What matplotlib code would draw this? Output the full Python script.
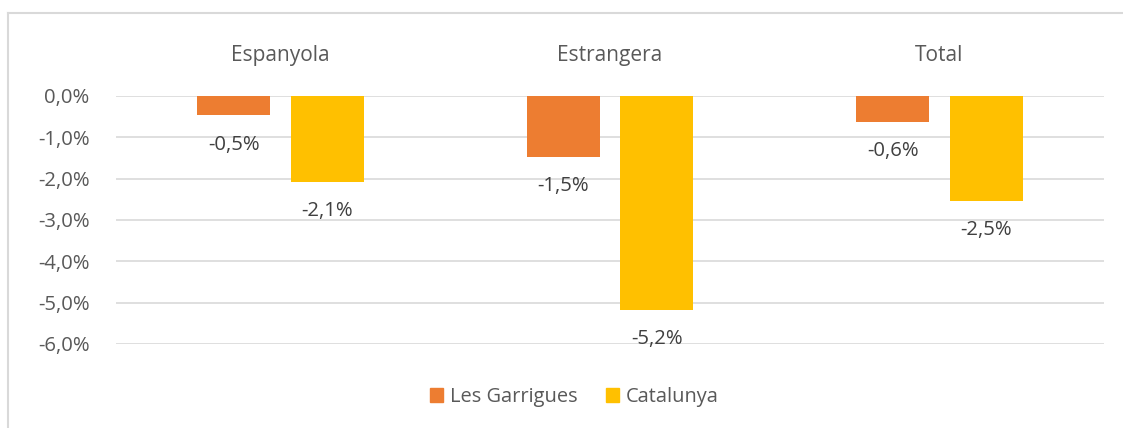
import matplotlib
matplotlib.use("Agg")
import matplotlib.pyplot as plt
from matplotlib.lines import Line2D
from matplotlib.patches import Patch
import numpy as np

categories = ["Espanyola", "Estrangera", "Total"]
series_names = ["Les Garrigues", "Catalunya"]
garrigues = [-0.47, -1.47, -0.62]
catalunya = [-2.07, -5.17, -2.54]
yticks = [0, -1, -2, -3, -4, -5, -6]

colors = ["#ED7D31", "#FFC000"]
plt.rcParams['font.family'] = ['Open Sans', 'DejaVu Sans']

W, H = 1123, 428
fig = plt.figure(figsize=(W/100, H/100), dpi=100)
ax = fig.add_axes([116/W, 1-344/H, (1104-116)/W, (344-96)/H])

x = np.arange(len(categories))
bw = 0.222
off = 0.142
for vals, c, d in [(garrigues, colors[0], -off), (catalunya, colors[1], off)]:
    ax.bar(x + d, vals, width=bw, color=c, zorder=3)
    for xi, v in zip(x + d, vals):
        lbl = f"{v:.1f}%".replace(".", ",")
        ax.annotate(lbl, (xi, v), xytext=(0, -21), textcoords="offset points",
                    ha="center", va="center", fontsize=14.6, color="#404040",
                    annotation_clip=False)

for xi, c in zip(x, categories):
    ax.annotate(c, (xi, 0), xytext=(0, 29.5), textcoords="offset points",
                ha="center", va="center", fontsize=15, color="#595959",
                annotation_clip=False)

ax.set_xlim(-0.5, 2.5)
ax.set_ylim(-6, 0)
ax.set_yticks(yticks)
ax.set_yticklabels([f"{t:.1f}%".replace(".", ",") for t in yticks])
ax.tick_params(axis="y", length=0, pad=19, labelsize=14.6, labelcolor="#595959")
ax.set_xticks([])
ax.grid(axis="y", color="#D9D9D9", linewidth=1.2, zorder=0)
ax.set_axisbelow(True)
for s in ax.spines.values():
    s.set_visible(False)

handles = [Patch(color=c, label=n) for c, n in zip(colors, series_names)]
fig.legend(handles=handles, loc="center", bbox_to_anchor=(574.5/W, 1-397/H),
           ncol=2, frameon=False, fontsize=14.4, handlelength=0.65, handleheight=0.65,
           handletextpad=0.35, columnspacing=1.4, labelcolor="#595959")

# chart border
fig.add_artist(Line2D([8/W, 1123/W], [1-13/H, 1-13/H], color="#D9D9D9", linewidth=1.5, transform=fig.transFigure))
fig.add_artist(Line2D([8/W, 8/W], [1-13/H, 0], color="#D9D9D9", linewidth=1.5, transform=fig.transFigure))

fig.savefig("out.png", dpi=100)
